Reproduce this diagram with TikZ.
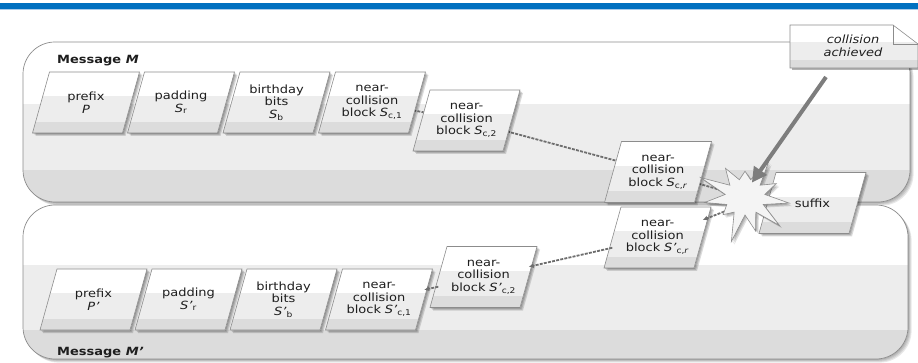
\documentclass[tikz,border=0pt]{standalone}
\usepackage{fontspec}
\setmainfont{DejaVu Sans}[FakeStretch=1.15]
\usetikzlibrary{shapes.symbols,arrows.meta,calc}

\definecolor{barblue}{HTML}{0070C0}
\definecolor{barlight}{HTML}{A9CBEA}
\definecolor{bandA}{HTML}{EDEDED}
\definecolor{bandB}{HTML}{DCDCDC}
\definecolor{edge}{HTML}{8C8C8C}
\definecolor{ink}{HTML}{1E1E1E}
\definecolor{linkgrey}{HTML}{6E6E6E}
\definecolor{pingrey}{HTML}{7D7D7D}

\newcommand\blockfont{\fontsize{11.3}{12.5}\selectfont}

% rounded message panel: x1, y1, x2, y2, start of middle band, start of lower band
\newcommand\msgpanel[6]{%
  \foreach \k in {1,...,4}
    \fill[black, opacity=0.09, rounded corners=32pt]
      ($(#1,#2)+(\k*0.9,\k*0.9)$) rectangle ($(#3,#4)+(\k*0.9,\k*0.9)$);
  \begin{scope}
    \clip[rounded corners=32pt] (#1,#2) rectangle (#3,#4);
    \fill[white] (#1,#2) rectangle (#3,#4);
    \fill[bandA] (#1,#5) rectangle (#3,#4);
    \fill[bandB] (#1,#6) rectangle (#3,#4);
  \end{scope}
  \draw[edge, line width=0.7pt, rounded corners=32pt] (#1,#2) rectangle (#3,#4);
}

% slanted block outline around centre (#1,#2), shifted by (#3,#4)
\newcommand\blkpath[4]{({#1-36.5+#3},{#2-30.5+#4}) -- ({#1+53.5+#3},{#2-30.5+#4})
  -- ({#1+36.5+#3},{#2+30.5+#4}) -- ({#1-53.5+#3},{#2+30.5+#4}) -- cycle}

% block: name, x, y, text
\newcommand\blk[4]{%
  \foreach \k in {1,2,3}
    \fill[black, opacity=0.14] \blkpath{#2}{#3}{\k}{\k};
  \begin{scope}
    \clip \blkpath{#2}{#3}{0}{0};
    \fill[white] ({#2-60},{#3-31}) rectangle ({#2+60},{#3+31});
    \fill[bandA] ({#2-60},{#3-6}) rectangle ({#2+60},{#3+31});
    \fill[bandB] ({#2-60},{#3+19.5}) rectangle ({#2+60},{#3+31});
  \end{scope}
  \draw[edge, line width=0.6pt] \blkpath{#2}{#3}{0}{0};
  \node[blocktext] (#1) at (#2,#3) {#4};
}

\tikzset{
  blocktext/.style={shape=rectangle, minimum width=90pt, minimum height=61pt, inner sep=0pt,
    text width=88pt, align=center, font=\blockfont, text=ink},
  msglabel/.style={anchor=west, inner sep=0pt, font=\blockfont\bfseries, text=ink},
  link/.style={draw=linkgrey, line width=1.8pt, dash pattern=on 3pt off 1.2pt},
  linkhead/.style={link, -{Latex[length=5pt,width=5pt]}},
  notetext/.style={align=center, font=\blockfont\itshape, text=ink, inner sep=0pt},
  burststyle/.style={starburst, starburst points=11, starburst point height=30pt,
    random starburst=23, minimum width=100pt, minimum height=96pt, inner sep=0pt}
}

\begin{document}
\begin{tikzpicture}[x=1pt, y=-1pt]
\useasboundingbox (0,0) rectangle (918,363);

% title bar
\fill[barblue] (0,3) rectangle (918,9);
\fill[barlight] (0,9) rectangle (918,10.5);

% the two message panels
\msgpanel{23}{42}{910}{202}{104}{170}
\msgpanel{23}{205}{908}{359}{265}{330}

\node[msglabel] (labM) at (57,61) {Message \textit{M}};
\node[msglabel] (labMp) at (57,353) {Message \textit{M'}};

% collision burst position (drawn later, on top)
\coordinate (burstc) at (745,197);
\node[burststyle] (burst) at (burstc) {};

% links between consecutive blocks, underneath the blocks
\path (372,102.5) coordinate (c1) (466.5,120.5) coordinate (c2) (658,172) coordinate (cr)
      (379,299.5) coordinate (c1p) (483.5,277) coordinate (c2p) (657.5,237.5) coordinate (crp);
\draw[link] (c1) -- (c2);
\draw[link] (c2) -- (cr);
\draw[link] (cr) -- (burstc);

% blocks of message M
\blk{P}{86}{102.5}{prefix\\\textit{P}}
\blk{Sr}{181}{102.5}{padding\\\textit{S}\textsubscript{r}}
\blk{Sb}{276.5}{102.5}{birthday\\bits\\\textit{S}\textsubscript{b}}
\blk{Sc1}{372}{102.5}{near-\\collision\\block \textit{S}\textsubscript{c,1}}
\blk{Sc2}{466.5}{120.5}{near-\\collision\\block \textit{S}\textsubscript{c,2}}
\blk{Scr}{658}{172}{near-\\collision\\block \textit{S}\textsubscript{c,\textit{r}}}

% blocks of message M'
\blk{Pp}{93.5}{299.5}{prefix\\\textit{P'}}
\blk{Srp}{188.5}{299.5}{padding\\\textit{S'}\textsubscript{r}}
\blk{Sbp}{283.5}{299.5}{birthday\\bits\\\textit{S'}\textsubscript{b}}
\blk{Sc1p}{379}{299.5}{near-\\collision\\block \textit{S'}\textsubscript{c,1}}
\blk{Sc2p}{483.5}{277}{near-\\collision\\block \textit{S'}\textsubscript{c,2}}
\blk{Scrp}{657.5}{237.5}{near-\\collision\\block \textit{S'}\textsubscript{c,\textit{r}}}

\blk{suffix}{812.5}{203}{suffix}

% arrows of message M' run back from the burst
\coordinate (burstout) at (736,207);
\draw[linkhead] (burstout) -- (Scrp);
\draw[linkhead] (Scrp) -- (Sc2p);
\draw[linkhead] (Sc2p) -- (Sc1p);

% the burst itself, with a soft shadow
\foreach \k in {1,2,3}
  \node[burststyle, fill=black, opacity=0.12] at ($(burstc)+(\k,\k)$) {};
\node[burststyle, fill=bandA!60!white, draw=edge, line width=0.6pt] (burstshape) at (burstc) {};

% note with folded corner
\begin{scope}
  \fill[black, opacity=0.3] (792,70.5) rectangle (920,66);
  \clip (790,25) -- (893,25) -- (918,44) -- (918,68) -- (790,68) -- cycle;
  \fill[white] (790,25) rectangle (918,68);
  \fill[bandA] (790,42) rectangle (918,68);
  \fill[bandB] (790,60) rectangle (918,68);
\end{scope}
\draw[edge, line width=0.6pt] (790,25) -- (893,25) -- (918,44) -- (918,68) -- (790,68) -- cycle;
\draw[edge, line width=0.6pt] (893,25) -- (893,44) -- (918,44);
\node[notetext] (note) at (853,46) {collision\\achieved};

% pointer from the note to the burst
\coordinate (pinstart) at (826,77);
\coordinate (pinend) at (753,181);
\draw[draw=pingrey, line width=4pt, shorten >=-2pt,
      -{Triangle[length=15pt,width=15pt,fill=pingrey]}] (pinstart) -- (pinend);
\end{tikzpicture}
\end{document}
